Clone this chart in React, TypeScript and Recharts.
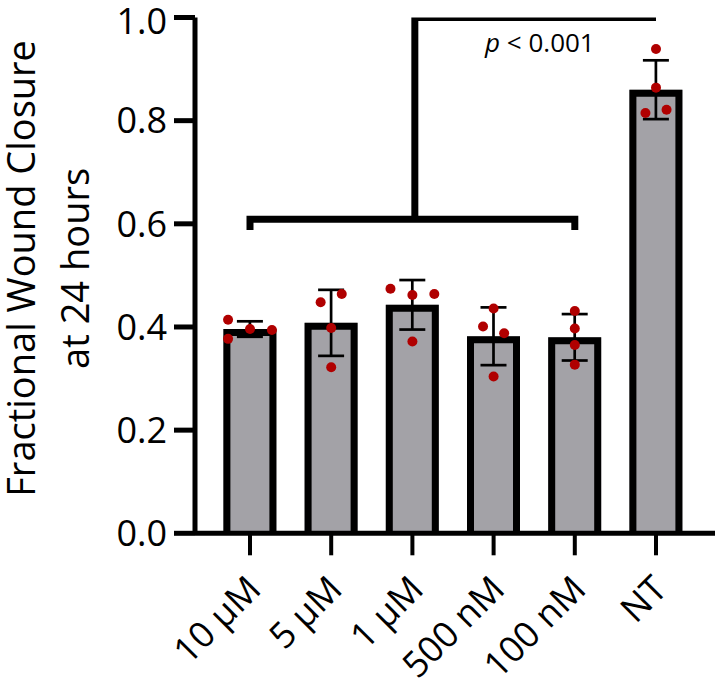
import React from 'react';
import {
  ComposedChart,
  Bar,
  ErrorBar,
  Scatter,
  Line,
  XAxis,
  YAxis,
  ReferenceDot,
} from 'recharts';

const FONT = '"Open Sans", sans-serif';

const categories = ['10 µM', '5 µM', '1 µM', '500 nM', '100 nM', 'NT'];
const means = [0.396, 0.408, 0.443, 0.382, 0.38, 0.86];
const sds = [0.015, 0.064, 0.048, 0.056, 0.045, 0.057];

// four replicate wells per condition
const replicates = [
  [0.414, 0.396, 0.394, 0.377],
  [0.448, 0.464, 0.398, 0.322],
  [0.474, 0.462, 0.464, 0.372],
  [0.436, 0.401, 0.388, 0.304],
  [0.431, 0.397, 0.365, 0.327],
  [0.939, 0.864, 0.815, 0.821],
];
// horizontal scatter of the replicate dots, in category units
const dotOffsets = [
  [-0.27, 0, 0.27, -0.27],
  [-0.13, 0.13, 0, 0],
  [-0.27, 0, 0.27, 0],
  [0, -0.13, 0.13, 0],
  [0, 0, 0, 0],
  [0, 0, -0.13, 0.13],
];

const yTicks = [0, 0.2, 0.4, 0.6, 0.8, 1.0];

// significance bracket: groups 0..4 vs NT (index 5)
const lowerBracket = [
  { x: 0, y: 0.588 },
  { x: 0, y: 0.609 },
  { x: 4, y: 0.609 },
  { x: 4, y: 0.588 },
];
const upperBracket = [
  { x: 2.03, y: 0.609 },
  { x: 2.03, y: 1.0 },
  { x: 5, y: 1.0 },
];
const pLabel = { x: 3.57, y: 0.934, text: '< 0.001' };

const barData = categories.map((name, i) => ({ name, mean: means[i], sd: sds[i] }));
const dotData = replicates.flatMap((vals, i) =>
  vals.map((v, j) => ({ x: i + dotOffsets[i][j], y: v }))
);

const BORDER = 7;
const PAD = { left: 14.4, right: 18.4 };

const OutlinedBar = (props: any) => {
  const { x, y, width, height } = props;
  const h = BORDER / 2;
  return (
    <g>
      <rect x={x} y={y} width={width} height={height} fill="#a3a2a7" />
      <path
        d={`M${x + h},${y + height} L${x + h},${y + h} L${x + width - h},${y + h} L${x + width - h},${y + height}`}
        fill="none"
        stroke="#000"
        strokeWidth={BORDER}
        strokeLinejoin="miter"
      />
    </g>
  );
};

const Dot = (props: any) => <circle cx={props.cx} cy={props.cy} r={5} fill="#b00000" />;

const XTick = ({ x, y, payload }: any) => (
  <g transform={`translate(${x + 13},${y})`}>
    <text transform="rotate(-45)" textAnchor="end" fontSize={36} fontFamily={FONT} fill="#000">
      {payload.value}
    </text>
  </g>
);

const YTitle = ({ viewBox }: any) => {
  const cy = viewBox.y + viewBox.height / 2 - 7;
  return (
    <g fontFamily={FONT} fontSize={38} fill="#000">
      <text transform={`translate(35,${cy}) rotate(-90)`} textAnchor="middle">
        Fractional Wound Closure
      </text>
      <text transform={`translate(89,${cy}) rotate(-90)`} textAnchor="middle">
        at 24 hours
      </text>
    </g>
  );
};

const PText = ({ viewBox }: any) => (
  <text x={viewBox.x} y={viewBox.y} textAnchor="middle" fontFamily={FONT} fontSize={26} fill="#000">
    <tspan fontStyle="italic">p</tspan> {pLabel.text}
  </text>
);

export default function App() {
  return (
    <div style={{ position: 'absolute', left: 0, top: 0, width: 720, height: 686, background: '#fff' }}>
      <ComposedChart
        width={720}
        height={686}
        data={barData}
        margin={{ top: 17.5, right: 5, left: 115, bottom: 12.7 }}
      >
        <XAxis
          dataKey="name"
          type="category"
          padding={PAD}
          height={140}
          axisLine={{ stroke: '#000', strokeWidth: 5 }}
          tickLine={{ stroke: '#000', strokeWidth: 4 }}
          tickSize={22}
          tickMargin={36}
          tick={<XTick />}
          interval={0}
        />
        <XAxis xAxisId="num" dataKey="x" type="number" domain={[-0.5, 5.5]} padding={PAD} hide allowDataOverflow />
        <YAxis
          domain={[0, 1]}
          ticks={yTicks}
          width={80}
          axisLine={{ stroke: '#000', strokeWidth: 5 }}
          tickLine={{ stroke: '#000', strokeWidth: 5 }}
          tickSize={21}
          tickMargin={7}
          tickFormatter={(v: number) => v.toFixed(1)}
          tick={{ fill: '#000', fontSize: 36, fontFamily: FONT }}
          label={{ content: YTitle }}
          allowDataOverflow
        />
        <Bar dataKey="mean" barSize={53} shape={<OutlinedBar />} isAnimationActive={false}>
          <ErrorBar dataKey="sd" width={13} stroke="#000" strokeWidth={2.7} direction="y" />
        </Bar>
        <Line
          xAxisId="num"
          data={lowerBracket}
          dataKey="y"
          type="linear"
          stroke="#000"
          strokeWidth={7}
          strokeLinejoin="miter"
          dot={false}
          activeDot={false}
          isAnimationActive={false}
        />
        <Line
          xAxisId="num"
          data={upperBracket}
          dataKey="y"
          type="linear"
          stroke="#000"
          strokeWidth={7}
          strokeLinejoin="miter"
          dot={false}
          activeDot={false}
          isAnimationActive={false}
        />
        <Scatter xAxisId="num" data={dotData} dataKey="y" shape={<Dot />} isAnimationActive={false} />
        <ReferenceDot xAxisId="num" x={pLabel.x} y={pLabel.y} r={0} fill="none" stroke="none" label={{ content: PText }} />
      </ComposedChart>
    </div>
  );
}
